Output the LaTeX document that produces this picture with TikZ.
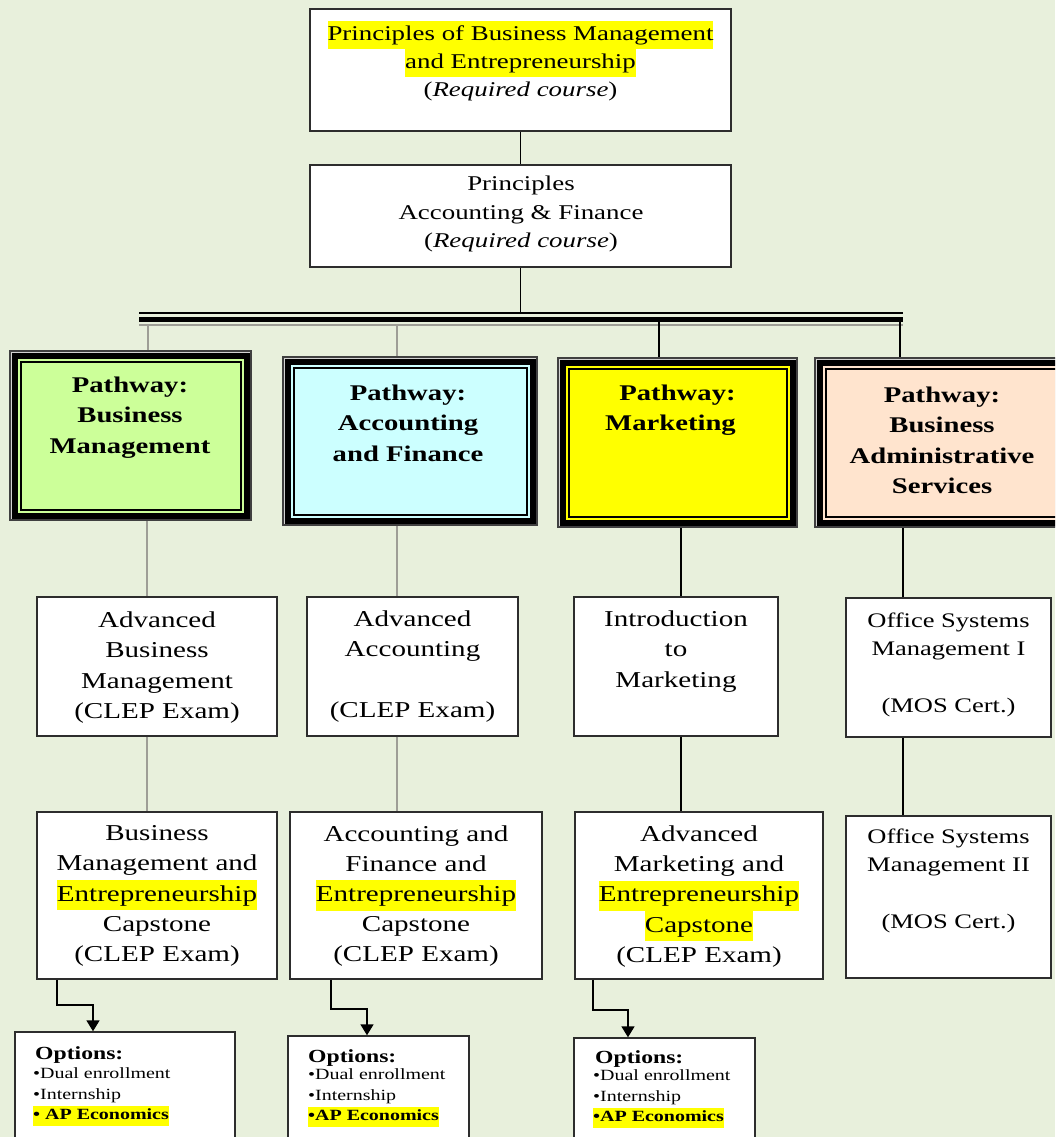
\documentclass[tikz,border=0pt]{standalone}
\usepackage{fontspec}
\setmainfont{Liberation Serif}[FakeStretch=1.28]
\usetikzlibrary{arrows.meta}
\definecolor{bg}{RGB}{232,240,220}
\definecolor{hly}{RGB}{255,255,0}
\definecolor{pgreen}{RGB}{204,255,153}
\definecolor{pcyan}{RGB}{204,255,255}
\definecolor{pyellow}{RGB}{255,255,0}
\definecolor{ppeach}{RGB}{255,228,206}
\definecolor{lgray}{RGB}{158,158,150}
\definecolor{bord}{RGB}{45,45,45}
\newcommand\hlt[1]{{\setlength{\fboxsep}{0pt}\colorbox{hly}{\strut #1}}}
\newcommand\pathdeco[2]{%
  \draw[line width=6, fill=#2] ([shift={(5.5,5.5)}]#1.north west) rectangle ([shift={(-5.5,-5.5)}]#1.south east);
  \draw[line width=2] ([shift={(11.5,11.5)}]#1.north west) rectangle ([shift={(-11.5,-11.5)}]#1.south east);}
\begin{document}
\begin{tikzpicture}[x=1pt,y=-1pt,
  wbox/.style={draw=bord, line width=1.4, fill=white, inner sep=0pt},
  pbox/.style={draw=black!75, line width=2, fill=gray!35, inner sep=0pt},
  toptext/.style={inner sep=0pt, align=center, font=\fontsize{21}{28.3}\selectfont},
  pathtext/.style={inner sep=0pt, align=center, font=\fontsize{22.4}{30.5}\selectfont\bfseries},
  midtext/.style={inner sep=0pt, align=center, font=\fontsize{22.7}{30.2}\selectfont},
  ostext/.style={inner sep=0pt, align=center, font=\fontsize{20.7}{28.3}\selectfont},
  opthead/.style={inner sep=0pt, anchor=west, font=\fontsize{18.5}{22}\selectfont\bfseries},
  optitem/.style={inner sep=0pt, anchor=west, align=left, font=\fontsize{15.6}{20.5}\selectfont},
  gline/.style={draw=lgray, line width=1.6},
  kline/.style={draw=black, line width=1.4},
  arr/.style={draw=black, line width=1.5, -{Triangle[length=11pt,width=13pt]}}]
\fill[bg] (0,0) rectangle (1055,1137);
\useasboundingbox (0,0) rectangle (1055,1137);
\clip (0,0) rectangle (1055,1137);

% top boxes
\node[wbox, minimum width=421, minimum height=122] (b1) at (520.5,70) {};
\node[wbox, minimum width=421, minimum height=102] (b2) at (520.5,216) {};

% bar
\coordinate (barL) at (139,318);
\coordinate (barR) at (903,318);
\coordinate (bart) at (520.5,313);
\draw[line width=1.4] ([yshift=5pt]barL) -- ([yshift=5pt]barR);
\draw[line width=5] ([yshift=-1.5pt]barL) -- ([yshift=-1.5pt]barR);
\draw[line width=1.8, lgray] ([yshift=-7pt]barL) -- ([yshift=-7pt]barR);

% pathway boxes
\node[pbox, minimum width=241, minimum height=169] (p1) at (130.5,435.5) {};
\node[pbox, minimum width=254, minimum height=168] (p2) at (410,441) {};
\node[pbox, minimum width=239, minimum height=169] (p3) at (677.5,442.5) {};
\node[pbox, minimum width=254, minimum height=169] (p4) at (942,442.5) {};
\pathdeco{p1}{pgreen}
\pathdeco{p2}{pcyan}
\pathdeco{p3}{pyellow}
\pathdeco{p4}{ppeach}

% course boxes
\node[wbox, minimum width=240, minimum height=139] (a1) at (157,666.5) {};
\node[wbox, minimum width=211, minimum height=139] (a2) at (412.5,666.5) {};
\node[wbox, minimum width=204, minimum height=139] (a3) at (676,666.5) {};
\node[wbox, minimum width=205, minimum height=139] (a4) at (948.5,667.5) {};
\node[wbox, minimum width=240, minimum height=167] (c1) at (157,895.5) {};
\node[wbox, minimum width=252, minimum height=167] (c2) at (416,895.5) {};
\node[wbox, minimum width=248, minimum height=167] (c3) at (699,895.5) {};
\node[wbox, minimum width=205, minimum height=162] (c4) at (948.5,897) {};

% options boxes
\node[wbox, minimum width=220, minimum height=118] (o1) at (125,1091) {};
\node[wbox, minimum width=181, minimum height=114] (o2) at (378.5,1093) {};
\node[wbox, minimum width=181, minimum height=112] (o3) at (664.5,1094) {};

% connectors
\draw[kline] (b1.south) -- (b2.north);
\draw[kline] (b2.south) -- (bart);
\coordinate (d1) at (148,326);
\coordinate (d2) at (397,326);
\coordinate (d3) at (659,322);
\coordinate (d4) at (900,322);
\draw[gline] (d1) -- (d1 |- p1.north);
\draw[gline] (d2) -- (d2 |- p2.north);
\draw[kline] (d3) -- (d3 |- p3.north);
\draw[kline] (d4) -- (d4 |- p4.north);
\coordinate (v1) at (147,0);
\coordinate (v2) at (397,0);
\coordinate (v3) at (681,0);
\coordinate (v4) at (903,0);
\draw[gline] (v1 |- p1.south) -- (v1 |- a1.north);
\draw[gline] (v1 |- a1.south) -- (v1 |- c1.north);
\draw[gline] (v2 |- p2.south) -- (v2 |- a2.north);
\draw[gline] (v2 |- a2.south) -- (v2 |- c2.north);
\draw[kline] (v3 |- p3.south) -- (v3 |- a3.north);
\draw[kline] (v3 |- a3.south) -- (v3 |- c3.north);
\draw[kline] (v4 |- p4.south) -- (v4 |- a4.north);
\draw[kline] (v4 |- a4.south) -- (v4 |- c4.north);

% elbow arrows
\coordinate (k1) at (57,1005);
\coordinate (m1) at (93,1005);
\coordinate (k2) at (331,1009);
\coordinate (m2) at (367,1009);
\coordinate (k3) at (593,1010);
\coordinate (m3) at (628,1010);
\draw[arr] (k1 |- c1.south) -- (k1) -- (m1) -- (m1 |- o1.north);
\draw[arr] (k2 |- c2.south) -- (k2) -- (m2) -- (m2 |- o2.north);
\draw[arr] (k3 |- c3.south) -- (k3) -- (m3) -- (m3 |- o3.north);

% texts
\node[toptext] (t1) at (520.5,61) {\hlt{Principles of Business Management}\\\hlt{and Entrepreneurship}\\(\textit{Required course})};
\node[toptext] (t2) at (521,214) {Principles\\Accounting \& Finance\\(\textit{Required course})};

\node[pathtext] (pt1) at (130,417.5) {Pathway:\\Business\\Management};
\node[pathtext] (pt2) at (408,423) {Pathway:\\Accounting\\and Finance};
\node[pathtext] (pt3) at (677.5,410) {Pathway:\\Marketing\hspace*{14pt}};
\node[pathtext] (pt4) at (942,440.5) {Pathway:\\Business\\Administrative\\Services};

\node[midtext] (at1) at (157,667.5) {Advanced\\Business\\Management\\(CLEP Exam)};
\node[midtext] (at2) at (412.5,666.5) {Advanced\\Accounting\\\strut\\(CLEP Exam)};
\node[midtext] (at3) at (676,651.5) {Introduction\\to\\Marketing};
\node[ostext] (at4) at (948.5,665) {Office Systems\\Management I\\\strut\\(MOS Cert.)};

\node[midtext] (ct1) at (157,896) {Business\\Management and\\\hlt{Entrepreneurship}\\Capstone\\(CLEP Exam)};
\node[midtext] (ct2) at (416,896) {Accounting and\\Finance and\\\hlt{Entrepreneurship}\\Capstone\\(CLEP Exam)};
\node[midtext] (ct3) at (699,896.5) {Advanced\\Marketing and\\\hlt{Entrepreneurship}\\\hlt{Capstone}\\(CLEP Exam)};
\node[ostext] (ct4) at (948.5,880.5) {Office Systems\\Management II\\\strut\\(MOS Cert.)};

\node[opthead] (oh1) at (35,1055) {Options:};
\node[optitem] (oi1) at (33,1097) {•Dual enrollment\\•Internship\\\hlt{\textbf{• AP Economics}}};
\node[opthead] (oh2) at (308,1058) {Options:};
\node[optitem] (oi2) at (308,1098) {•Dual enrollment\\•Internship\\\hlt{\textbf{•AP Economics}}};
\node[opthead] (oh3) at (595,1059) {Options:};
\node[optitem] (oi3) at (593,1099) {•Dual enrollment\\•Internship\\\hlt{\textbf{•AP Economics}}};
\end{tikzpicture}
\end{document}
